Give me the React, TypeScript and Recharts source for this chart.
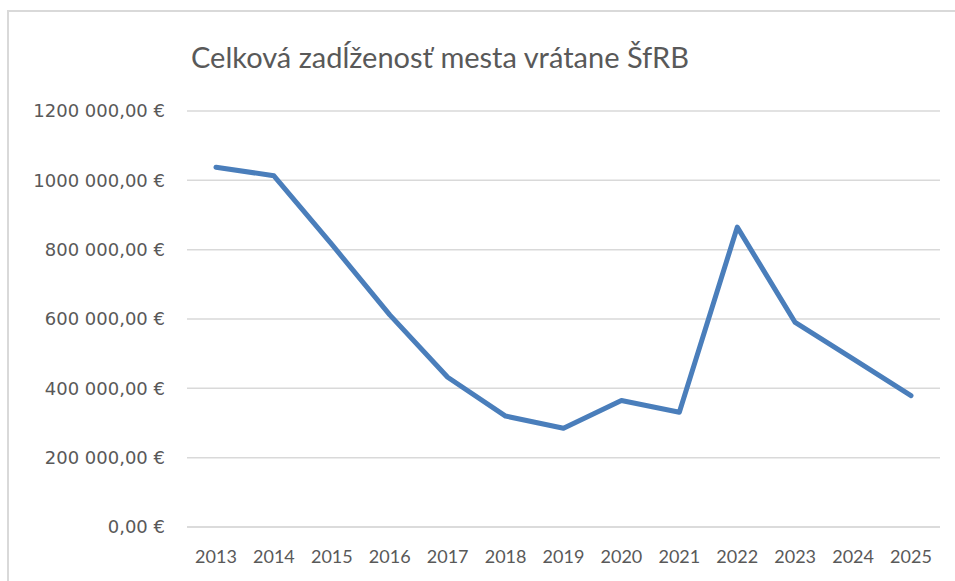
import { CartesianGrid, Line, LineChart, XAxis, YAxis } from "recharts";

const years = ["2013", "2014", "2015", "2016", "2017", "2018", "2019", "2020", "2021", "2022", "2023", "2024", "2025"];
const debt = [1038000, 1013000, 815000, 612000, 432000, 320000, 285000, 365000, 331000, 865000, 590000, 485000, 379000];
const yTicks = [0, 200000, 400000, 600000, 800000, 1000000, 1200000];

const title = "Celková zadĺženosť mesta vrátane ŠfRB";

const data = years.map((year, i) => ({ year, debt: debt[i] }));

// Excel-ish "1200 000,00 €" (only the last group gets a space)
const fmtEur = (v: number) => {
  const s = Math.round(v).toString();
  const whole = s.length > 3 ? `${s.slice(0, -3)}\u00a0${s.slice(-3)}` : s;
  return `${whole},00\u00a0€`;
};

const FONT = "Lato, 'Open Sans', sans-serif";
const GREY = "#595959";
const FRAME = "#d9d9d9";

export default function App() {
  return (
    <div style={{ position: "relative", width: 955, height: 581, overflow: "hidden", fontFamily: FONT }}>
      <style>{"html,body{margin:0;overflow:hidden}"}</style>
      {/* chart frame: only top and left edges are visible in the crop */}
      <div style={{ position: "absolute", left: 7, top: 10, width: 948, height: 2, background: FRAME }} />
      <div style={{ position: "absolute", left: 7, top: 10, width: 2, height: 571, background: FRAME }} />
      <div
        style={{
          position: "absolute",
          left: 0,
          top: 39,
          width: 880,
          textAlign: "center",
          fontSize: 29,
          lineHeight: "normal",
          color: GREY,
          whiteSpace: "nowrap",
        }}
      >
        {title}
      </div>
      <div style={{ position: "absolute", left: 0, top: 0 }}>
        <LineChart width={955} height={581} data={data} margin={{ top: 111, right: 15, bottom: 0, left: 0 }}>
          <CartesianGrid vertical={false} stroke={FRAME} strokeWidth={1.5} />
          <XAxis
            dataKey="year"
            height={54}
            padding={{ left: 29, right: 29 }}
            tickLine={false}
            tickSize={0}
            tickMargin={23}
            axisLine={{ stroke: FRAME, strokeWidth: 1.5 }}
            tick={{ fontSize: 18, fill: GREY, fontFamily: FONT }}
            interval={0}
          />
          <YAxis
            width={187}
            domain={[0, 1200000]}
            ticks={yTicks}
            tickFormatter={fmtEur}
            tickLine={false}
            tickSize={0}
            tickMargin={22}
            axisLine={false}
            tick={{ fontSize: 18, fill: GREY, fontFamily: "'DejaVu Sans', Lato, sans-serif" }}
          />
          <Line
            type="linear"
            dataKey="debt"
            stroke="#4a7ebb"
            strokeWidth={5}
            strokeLinecap="round"
            strokeLinejoin="round"
            dot={false}
            activeDot={false}
            isAnimationActive={false}
          />
        </LineChart>
      </div>
    </div>
  );
}
